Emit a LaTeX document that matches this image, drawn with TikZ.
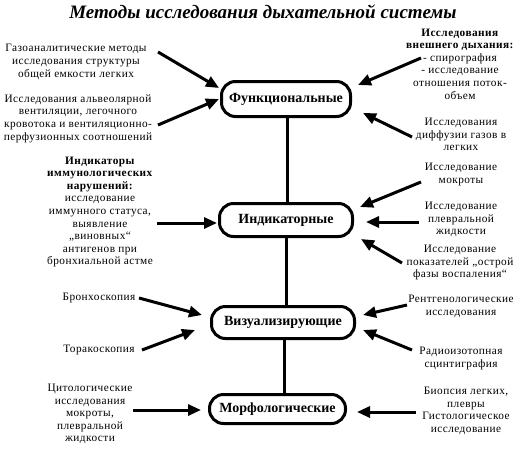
\documentclass[tikz,border=0pt]{standalone}
\usepackage{fontspec}
\setmainfont{Liberation Serif}
\newfontfamily\bodyf{Liberation Serif}[LetterSpace=4]
\usetikzlibrary{arrows.meta}
\begin{document}
\begin{tikzpicture}[x=1pt,y=-1pt,
  txt/.style={align=center,inner sep=0pt,font=\bodyf\fontsize{11.3}{12.6}\selectfont},
  box/.style={draw,line width=3pt,rounded corners=14pt,inner sep=0pt,
     font=\fontsize{14}{15}\selectfont\bfseries},
  arr/.style={line width=3pt,-{Triangle[length=13pt,width=11pt]}},
  conn/.style={line width=3pt}]
\useasboundingbox (0,0) rectangle (528,448);
% title
\node[inner sep=0pt,font=\fontsize{19}{21}\selectfont\bfseries\itshape] (title) at (263,12) {Методы исследования дыхательной системы};
% boxes
\node[box,minimum width=129pt,minimum height=35pt] (func) at (286,99) {Функциональные};
\node[box,minimum width=133pt,minimum height=33pt] (ind) at (286,220) {Индикаторные};
\node[box,minimum width=143pt,minimum height=32pt] (viz) at (283,322.5) {Визуализирующие};
\node[box,minimum width=136pt,minimum height=29pt] (morf) at (277.5,409) {Морфологические};
% vertical connectors
\draw[conn] (func.south -| 287,0) -- (ind.north -| 287,0);
\draw[conn] (ind.south -| 286,0) -- (viz.north -| 286,0);
\draw[conn] (viz.south -| 284,0) -- (morf.north -| 284,0);
% left texts
\node[txt] (tA) at (76,62) {Газоаналитические методы\\исследования структуры\\общей емкости легких};
\node[txt] (tB) at (78,118.5) {Исследования альвеолярной\\вентиляции, легочного\\кровотока и вентиляционно-\\перфузионных соотношений};
\node[txt] (tC) at (100,212) {\textbf{Индикаторы}\\\textbf{иммунологических}\\\textbf{нарушений:}\\исследование\\иммунного статуса,\\выявление\\„виновных“\\антигенов при\\бронхиальной астме};
\node[txt] (tD) at (99,298) {Бронхоскопия};
\node[txt] (tE) at (99,350) {Торакоскопия};
\node[txt] (tF) at (90,414) {Цитологические\\исследования\\мокроты,\\плевральной\\жидкости};
% right texts
\node[txt] (tG) at (460,64) {\textbf{Исследования}\\\textbf{внешнего дыхания:}\\- спирография\\- исследование\\отношения поток-\\объем};
\node[txt] (tH) at (461,134.5) {Исследования\\диффузии газов в\\легких};
\node[txt] (tI) at (461,174.5) {Исследование\\мокроты};
\node[txt] (tJ) at (461,219.5) {Исследование\\плевральной\\жидкости};
\node[txt] (tK) at (460,262.5) {Исследование\\показателей „острой\\фазы воспаления“};
\node[txt] (tL) at (461,306.5) {Рентгенологические\\исследования};
\node[txt] (tM) at (461,358.5) {Радиоизотопная\\сцинтиграфия};
\node[txt] (tN) at (466,411) {Биопсия легких,\\плевры\\Гистологическое\\исследование};
% arrow coordinates
\coordinate (aAs) at (158,52);  \coordinate (aAe) at (219,88);
\coordinate (aBs) at (158,125); \coordinate (aBe) at (219,99);
\coordinate (aCs) at (157,223); \coordinate (aCe) at (217,223);
\coordinate (aDs) at (139,298); \coordinate (aDe) at (202,315);
\coordinate (aEs) at (142,350); \coordinate (aEe) at (195,330);
\coordinate (aFs) at (133,410); \coordinate (aFe) at (201,410);
\coordinate (aGs) at (421,58);  \coordinate (aGe) at (358,85);
\coordinate (aHs) at (412,137); \coordinate (aHe) at (363,113);
\coordinate (aIs) at (421,182); \coordinate (aIe) at (360,207);
\coordinate (aJs) at (419,222); \coordinate (aJe) at (366,222);
\coordinate (aKs) at (402,263); \coordinate (aKe) at (361,239);
\coordinate (aLs) at (407,305); \coordinate (aLe) at (363,315);
\coordinate (aMs) at (412,350); \coordinate (aMe) at (363,330);
\coordinate (aNs) at (416,412); \coordinate (aNe) at (357,412);
\foreach \a in {A,B,C,D,E,F,G,H,I,J,K,L,M,N}
  \draw[arr] (a\a s) -- (a\a e);
\end{tikzpicture}
\end{document}
